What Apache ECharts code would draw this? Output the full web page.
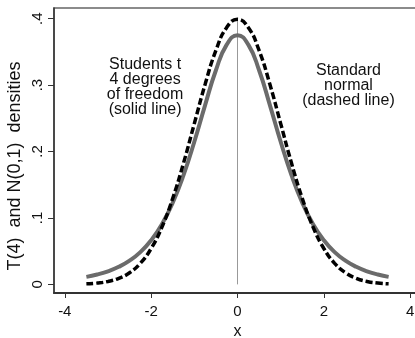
<!DOCTYPE html>
<html>
<head>
<meta charset="utf-8">
<script src="https://cdn.jsdelivr.net/npm/echarts@6/dist/echarts.min.js"></script>
<style>
  html, body { margin: 0; padding: 0; background: #fff; }
  #chart { width: 415px; height: 338px; }
</style>
</head>
<body>
<div id="chart"></div>
<script>
const xs = [-3.5, -3.25, -3, -2.75, -2.5, -2.25, -2, -1.75, -1.5, -1.25, -1, -0.75, -0.5, -0.25, 0,
    0.25, 0.5, 0.75, 1, 1.25, 1.5, 1.75, 2, 2.25, 2.5, 2.75, 3, 3.25, 3.5];
// t(4) density
const tDens = [0.0113, 0.0148, 0.0197, 0.0264, 0.0357, 0.0485, 0.0663, 0.0905, 0.1229, 0.1644, 0.2147, 0.2699, 0.3223, 0.3608, 0.375,
    0.3608, 0.3223, 0.2699, 0.2147, 0.1644, 0.1229, 0.0905, 0.0663, 0.0485, 0.0357, 0.0264, 0.0197, 0.0148, 0.0113];
// N(0,1) density
const nDens = [0.0009, 0.0020, 0.0044, 0.0091, 0.0175, 0.0317, 0.0540, 0.0863, 0.1295, 0.1826, 0.2420, 0.3011, 0.3521, 0.3867, 0.3989,
    0.3867, 0.3521, 0.3011, 0.2420, 0.1826, 0.1295, 0.0863, 0.0540, 0.0317, 0.0175, 0.0091, 0.0044, 0.0020, 0.0009];
const refLine = [[0, 0], [0, 0.3989]];
const xTicks = [-4, -2, 0, 2, 4];
const yTicks = [0, 0.1, 0.2, 0.3, 0.4];
const leftNote = 'Students t\n4 degrees\nof freedom\n(solid line)';
const rightNote = 'Standard\nnormal\n(dashed line)';

const font = '"Liberation Sans", Arial, sans-serif';
const axisDark = '#333';

const chart = echarts.init(document.getElementById('chart'));
chart.setOption({
    animation: false,
    grid: {
        left: 54, top: 8, right: -6, bottom: 45,
        outerBoundsMode: 'none', containLabel: false,
        show: true, borderColor: '#666', borderWidth: 1.5,
    },
    xAxis: {
        type: 'value',
        min: -4.25, max: 4.25,
        name: 'x',
        nameLocation: 'middle',
        nameGap: 30,
        nameTextStyle: { fontFamily: font, fontSize: 16, color: '#111' },
        axisLine: { onZero: false, lineStyle: { color: axisDark, width: 2 } },
        axisTick: { show: true, customValues: xTicks, length: 5, lineStyle: { color: axisDark } },
        axisLabel: { customValues: xTicks, margin: 11, fontFamily: font, fontSize: 15, color: '#111' },
        splitLine: { show: false },
    },
    yAxis: {
        type: 'value',
        min: -0.013, max: 0.416,
        axisLine: { show: true, onZero: false, lineStyle: { color: axisDark, width: 1.5 } },
        axisTick: { show: true, customValues: yTicks, length: 6, lineStyle: { color: axisDark } },
        axisLabel: {
            customValues: yTicks, rotate: 90, margin: 9,
            fontFamily: font, fontSize: 15, color: '#111',
            formatter: v => v === 0 ? '0' : String(+v.toFixed(1)).replace('0.', '.'),
        },
        splitLine: { show: false },
    },
    series: [
        {
            type: 'line',
            data: refLine,
            symbol: 'none',
            lineStyle: { color: '#999', width: 1 },
            z: 1,
        },
        {
            type: 'line',
            data: xs.map((x, i) => [x, tDens[i]]),
            symbol: 'none',
            smooth: true,
            lineStyle: { color: '#6b6b6b', width: 4 },
            z: 2,
        },
        {
            type: 'line',
            data: xs.map((x, i) => [x, nDens[i]]),
            symbol: 'none',
            smooth: true,
            lineStyle: { color: '#000', width: 3.5, type: [7, 3] },
            z: 3,
        },
    ],
});

const lp = chart.convertToPixel({ gridIndex: 0 }, [-2.14, 0.342]);
const rp = chart.convertToPixel({ gridIndex: 0 }, [2.57, 0.333]);
const noteStyle = { fontFamily: font, fontSize: 16, lineHeight: 15, fill: '#111', align: 'center', verticalAlign: 'top' };
chart.setOption({
    graphic: [
        { type: 'text', x: lp[0], y: lp[1], style: Object.assign({ text: leftNote }, noteStyle) },
        { type: 'text', x: rp[0], y: rp[1], style: Object.assign({ text: rightNote }, noteStyle) },
        {
            type: 'text', x: 15, y: 166, rotation: Math.PI / 2,
            style: { text: 'T(4)  and N(0,1)  densities', fontFamily: font, fontSize: 18, fill: '#111', align: 'center', verticalAlign: 'middle' },
        },
    ],
});
</script>
</body>
</html>
